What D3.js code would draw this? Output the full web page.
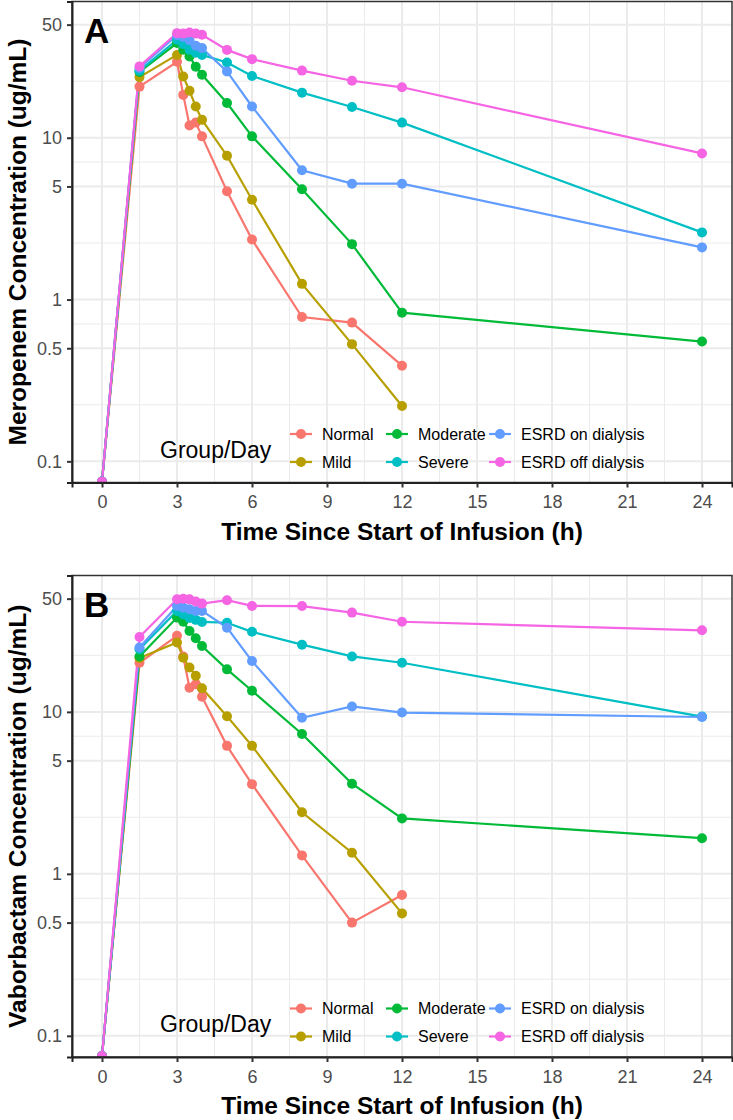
<!DOCTYPE html>
<html>
<head>
<meta charset="utf-8">
<script src="https://cdn.jsdelivr.net/npm/d3@7"></script>
<style>
  body { margin: 0; background: #fff; }
  svg { display: block; font-family: "Liberation Sans", Arial, sans-serif; }
</style>
</head>
<body>
<div id="grafico"></div>
<script>
// sampling times (h)
var times = [0, 1.5, 3, 3.25, 3.5, 3.75, 4, 5, 6, 8, 10, 12, 24];
var groups = ["Normal", "Mild", "Moderate", "Severe", "ESRD on dialysis", "ESRD off dialysis"];

// meropenem, ug/mL
var meroNormal   = [0.075, 20.7, 29.5, 18.4, 11.9, 12.4, 10.2, 4.67, 2.35, 0.78, 0.72, 0.39, null];
var meroMild     = [0.075, 23.7, 32.5, 23.9, 19.5, 15.6, 12.9, 7.74, 4.14, 1.25, 0.53, 0.22, null];
var meroModerate = [0.075, 25.5, 38.5, 35, 31.8, 27.5, 24.5, 16.4, 10.2, 4.8, 2.2, 0.83, 0.55];
var meroSevere   = [0.075, 26, 40.3, 38, 35, 33.5, 32.5, 29.2, 24.1, 19, 15.5, 12.4, 2.6];
var meroEsrdOn   = [0.075, 27, 43, 42, 40, 37, 35.8, 25.7, 15.6, 6.3, 5.2, 5.2, 2.1];
var meroEsrdOff  = [0.075, 27.6, 44.3, 44, 44.7, 44, 43.3, 34.9, 30.6, 26, 22.5, 20.5, 8.0];

// vaborbactam, ug/mL
var vaboNormal   = [0.075, 20.1, 29.5, 22, 14.1, 14.8, 12.4, 6.17, 3.58, 1.3, 0.5, 0.74, null];
var vaboMild     = [0.075, 21.5, 26.8, 21.6, 18.8, 16.7, 14.0, 9.4, 6.17, 2.4, 1.35, 0.57, null];
var vaboModerate = [0.075, 22, 38.2, 36, 31.6, 28.5, 25.5, 18.3, 13.5, 7.3, 3.6, 2.2, 1.66];
var vaboSevere   = [0.075, 24.4, 42, 40, 38, 37, 35.9, 35.5, 31.2, 26, 22, 20.1, 9.35];
var vaboEsrdOn   = [0.075, 25, 45, 44, 43, 42, 42, 33.1, 20.6, 9.2, 10.8, 9.9, 9.3];
var vaboEsrdOff  = [0.075, 29, 49.6, 50, 49.5, 48, 46.6, 48.9, 45.1, 45, 41, 36, 31.9];

var xTicks = [0, 3, 6, 9, 12, 15, 18, 21, 24];
var yTicks = [0.1, 0.5, 1, 5, 10, 50];
var yTickLabels = ["0.1", "0.5", "1", "5", "10", "50"];

var colors = ["#F8766D", "#B79F00", "#00BA38", "#00BFC4", "#619CFF", "#F564E3"];

function chart() {
    var width = 733,
        height = 1120;
    var svg = d3.select("#grafico").append("svg")
        .attr("width", width)
        .attr("height", height)

    var color = d3.scaleOrdinal().domain(groups).range(colors)

    var panels = [
        { letter: "A", title: "Meropenem Concentration (ug/mL)", top: 1.5, bottom: 482.5,
          series: [meroNormal, meroMild, meroModerate, meroSevere, meroEsrdOn, meroEsrdOff] },
        { letter: "B", title: "Vaborbactam Concentration (ug/mL)", top: 575.5, bottom: 1057,
          series: [vaboNormal, vaboMild, vaboModerate, vaboSevere, vaboEsrdOn, vaboEsrdOff] }
    ]

    var left = 72, right = 732;

    panels.forEach(function(p, pi) {
        var x = d3.scaleLinear().domain([-1.2, 25.2]).range([left, right])
        var y = d3.scaleLog().domain([0.074, 69.5]).range([p.bottom, p.top])

        var g = svg.append("g")

        // grid
        var xMinor = xTicks.slice(0, -1).map(function(t) { return t + 1.5 })
        var yMinor = yTicks.slice(0, -1).map(function(t, i) { return Math.sqrt(t * yTicks[i + 1]) })

        g.selectAll(".xminor").data(xMinor).enter().append("line")
            .attr("x1", function(d) { return x(d) }).attr("x2", function(d) { return x(d) })
            .attr("y1", p.top).attr("y2", p.bottom)
            .attr("stroke", "#EBEBEB").attr("stroke-width", 1)
        g.selectAll(".yminor").data(yMinor).enter().append("line")
            .attr("x1", left).attr("x2", right)
            .attr("y1", function(d) { return y(d) }).attr("y2", function(d) { return y(d) })
            .attr("stroke", "#EBEBEB").attr("stroke-width", 1)
        g.selectAll(".xmajor").data(xTicks).enter().append("line")
            .attr("x1", function(d) { return x(d) }).attr("x2", function(d) { return x(d) })
            .attr("y1", p.top).attr("y2", p.bottom)
            .attr("stroke", "#EBEBEB").attr("stroke-width", 2)
        g.selectAll(".ymajor").data(yTicks).enter().append("line")
            .attr("x1", left).attr("x2", right)
            .attr("y1", function(d) { return y(d) }).attr("y2", function(d) { return y(d) })
            .attr("stroke", "#EBEBEB").attr("stroke-width", 2)

        // clip for data
        var clipId = "clip" + pi
        svg.append("clipPath").attr("id", clipId)
            .append("rect")
            .attr("x", left).attr("y", p.top)
            .attr("width", right - left).attr("height", p.bottom - p.top)

        var data = groups.map(function(name, gi) {
            return {
                name: name,
                values: times.map(function(t, i) { return { t: t, v: p.series[gi][i] } })
                    .filter(function(d) { return d.v != null })
            }
        })

        var line = d3.line()
            .x(function(d) { return x(d.t) })
            .y(function(d) { return y(d.v) })

        var dataG = g.append("g").attr("clip-path", "url(#" + clipId + ")")

        dataG.selectAll(".serie").data(data).enter().append("path")
            .attr("d", function(d) { return line(d.values) })
            .attr("fill", "none")
            .attr("stroke", function(d) { return color(d.name) })
            .attr("stroke-width", 2.2)

        data.forEach(function(s) {
            dataG.selectAll(null).data(s.values).enter().append("circle")
                .attr("cx", function(d) { return x(d.t) })
                .attr("cy", function(d) { return y(d.v) })
                .attr("r", 5)
                .attr("fill", color(s.name))
        })

        // panel border
        g.append("rect")
            .attr("x", left).attr("y", p.top)
            .attr("width", right - left).attr("height", p.bottom - p.top)
            .attr("fill", "none")
            .attr("stroke", "#333333")
            .attr("stroke-width", 1.5)

        // axes
        var xAxis = g.append("g")
            .attr("transform", "translate(0," + p.bottom + ")")
            .call(d3.axisBottom(x).tickValues(xTicks).tickSize(5).tickPadding(8))
        var yAxis = g.append("g")
            .attr("transform", "translate(" + left + ",0)")
            .call(d3.axisLeft(y).tickValues(yTicks).tickSize(5).tickPadding(5)
                .tickFormat(function(d, i) { return yTickLabels[i] }))

        ;[xAxis, yAxis].forEach(function(a) {
            a.select(".domain").attr("stroke", "#222").attr("stroke-width", 2)
            a.selectAll(".tick line").attr("stroke", "#333").attr("stroke-width", 2)
            a.selectAll(".tick text").attr("fill", "#4D4D4D").attr("font-size", 18)
                .attr("font-family", "'Liberation Sans', Arial, sans-serif")
        })

        // axis titles
        g.append("text")
            .attr("x", (left + right) / 2)
            .attr("y", p.bottom + 57)
            .attr("text-anchor", "middle")
            .attr("font-size", 24.5)
            .attr("font-weight", "bold")
            .text("Time Since Start of Infusion (h)")

        g.append("text")
            .attr("transform", "translate(25.5," + (p.top + p.bottom) / 2 + ") rotate(-90)")
            .attr("text-anchor", "middle")
            .attr("font-size", 24.5)
            .attr("font-weight", "bold")
            .text(p.title)

        // panel letter
        g.append("text")
            .attr("x", left + 12)
            .attr("y", p.top + 41)
            .attr("font-size", 35)
            .attr("font-weight", "bold")
            .text(p.letter)

        // legend
        var leg = g.append("g")
        leg.append("text")
            .attr("x", left + 88)
            .attr("y", p.bottom - 33)
            .attr("dy", "0.35em")
            .attr("font-size", 23)
            .text("Group/Day")

        var colX = [left + 229, left + 325, left + 428]
        var rowY = [p.bottom - 48.5, p.bottom - 20.5]
        groups.forEach(function(name, i) {
            var cx = colX[Math.floor(i / 2)]
            var cy = rowY[i % 2]
            leg.append("line")
                .attr("x1", cx - 11).attr("x2", cx + 11)
                .attr("y1", cy).attr("y2", cy)
                .attr("stroke", color(name)).attr("stroke-width", 2.2)
            leg.append("circle")
                .attr("cx", cx).attr("cy", cy).attr("r", 5)
                .attr("fill", color(name))
            leg.append("text")
                .attr("x", cx + 21)
                .attr("y", cy)
                .attr("dy", "0.35em")
                .attr("font-size", 16)
                .text(name)
        })
    })
}
chart();
</script>
</body>
</html>
